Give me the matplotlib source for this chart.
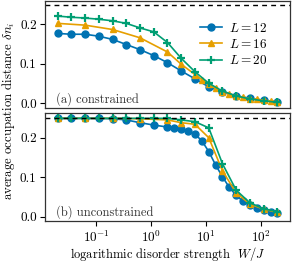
import numpy as np
import matplotlib
matplotlib.use("Agg")
import matplotlib.pyplot as plt

plt.rcParams['font.family'] = 'serif'
plt.rcParams['font.serif'] = ['cmr10', 'DejaVu Serif']
plt.rcParams['mathtext.fontset'] = 'cm'
plt.rcParams['axes.formatter.use_mathtext'] = True
plt.rcParams['axes.unicode_minus'] = False

# log10 of disorder strength W/J
logw_a_12 = [-1.7, -1.45, -1.2, -0.95, -0.7, -0.45, -0.2, 0.05, 0.3, 0.55, 0.8, 1.05, 1.3, 1.55, 1.8, 2.05, 2.3]
dn_a_12 = [0.177, 0.175, 0.175, 0.170, 0.162, 0.149, 0.136, 0.121, 0.103, 0.082, 0.062, 0.042, 0.028, 0.019, 0.013, 0.008, 0.004]
logw_a_16 = [-1.7, -1.2, -0.7, -0.2, 0.3, 0.55, 0.8, 0.925, 1.05, 1.175, 1.3, 1.425, 1.55, 1.675, 1.8, 1.925, 2.05, 2.175, 2.3]
dn_a_16 = [0.2025, 0.198, 0.187, 0.166, 0.130, 0.099, 0.073, 0.060, 0.048, 0.038, 0.030, 0.024, 0.019, 0.015, 0.012, 0.010, 0.008, 0.006, 0.004]
logw_a_20 = [-1.7, -1.45, -1.2, -0.95, -0.7, -0.45, -0.2, 0.05, 0.3, 0.55, 0.8, 1.05, 1.3, 1.55, 1.8, 2.05, 2.3]
dn_a_20 = [0.221, 0.218, 0.216, 0.213, 0.209, 0.2025, 0.191, 0.181, 0.154, 0.114, 0.080, 0.051, 0.031, 0.019, 0.011, 0.0066, 0.0025]

logw_b_12 = [-1.7, -1.45, -1.2, -0.95, -0.7, -0.45, -0.2, 0.05, 0.3, 0.425, 0.55, 0.675, 0.8, 0.925, 1.05, 1.175,
             1.3, 1.425, 1.55, 1.675, 1.8, 1.925, 2.05, 2.175, 2.3]
dn_b_12 = [0.249, 0.249, 0.249, 0.249, 0.248, 0.245, 0.238, 0.232, 0.227, 0.2245, 0.221, 0.218, 0.209, 0.192, 0.165, 0.131,
           0.101, 0.074, 0.054, 0.039, 0.0296, 0.021, 0.017, 0.0127, 0.010]
logw_b_16 = [-1.7, -1.2, -0.7, -0.2, 0.3, 0.55, 0.8, 1.05, 1.3, 1.55, 1.8, 2.05, 2.3]
dn_b_16 = [0.249, 0.249, 0.249, 0.248, 0.245, 0.238, 0.234, 0.200, 0.116, 0.060, 0.032, 0.019, 0.011]
logw_b_20 = [-1.7, -1.45, -1.2, -0.95, -0.7, -0.45, -0.2, 0.05, 0.3, 0.55, 0.8, 1.05, 1.3, 1.55, 1.8, 2.05, 2.3]
dn_b_20 = [0.249, 0.249, 0.249, 0.249, 0.249, 0.249, 0.249, 0.249, 0.249, 0.245, 0.2405, 0.225, 0.134, 0.067, 0.035, 0.020, 0.0125]

labels = ['$L = 12$', '$L = 16$', '$L = 20$']
colors = ['#0072B2', '#E69F00', '#009E73']
markers = ['o', '^', '+']

fig = plt.figure(figsize=(2.95, 2.61), dpi=100)
ax1 = fig.add_axes([0.1525, 0.588, 0.8305, 0.408])
ax2 = fig.add_axes([0.1525, 0.1544, 0.8305, 0.4126])

series_a = [(logw_a_12, dn_a_12), (logw_a_16, dn_a_16), (logw_a_20, dn_a_20)]
series_b = [(logw_b_12, dn_b_12), (logw_b_16, dn_b_16), (logw_b_20, dn_b_20)]

for ax, series in ((ax1, series_a), (ax2, series_b)):
    for (lw_, dn), lab, c, m in zip(series, labels, colors, markers):
        ms = 5 if m != '+' else 6
        mew = 1 if m != '+' else 1.6
        ax.plot(10 ** np.array(lw_), dn, color=c, marker=m, ms=ms, mew=mew, lw=1.2, label=lab)
    ax.axhline(0.25, color='black', ls='--', lw=1.0, dashes=(3.5, 3))
    ax.set_xscale('log')
    ax.set_xlim(0.0118, 337)
    ax.set_ylim(-0.0105, 0.259)
    ax.set_yticks([0.0, 0.1, 0.2])
    ax.set_yticklabels(['0.0', '0.1', '0.2'])
    ax.tick_params(labelsize=9.5, length=3.5, width=0.8, direction='out', pad=2.5)
    ax.tick_params(which='minor', bottom=False)
    for s in ax.spines.values():
        s.set_linewidth(0.9)
        s.set_color('#333333')

ax2.set_ylim(-0.0101, 0.2625)
ax1.tick_params(axis='x', which='both', bottom=False, labelbottom=False)
ax2.set_xticks([0.1, 1, 10, 100])

ax1.legend(loc='upper right', bbox_to_anchor=(0.94, 0.88), frameon=False, fontsize=9.5,
           handlelength=1.7, handletextpad=0.5, labelspacing=0.25, borderaxespad=0.2)
ax1.text(0.045, 0.05, '(a) constrained', transform=ax1.transAxes, fontsize=9, color='#333333')
ax2.text(0.045, 0.05, '(b) unconstrained', transform=ax2.transAxes, fontsize=9, color='#333333')

ax2.set_xlabel('logarithmic disorder strength  $W/J$', fontsize=9, labelpad=0)
fig.text(0.03, 0.575, r'average occupation distance $\delta n_i$', rotation=90,
         fontsize=9.2, ha='center', va='center')

fig.savefig('out.png', dpi=100)
